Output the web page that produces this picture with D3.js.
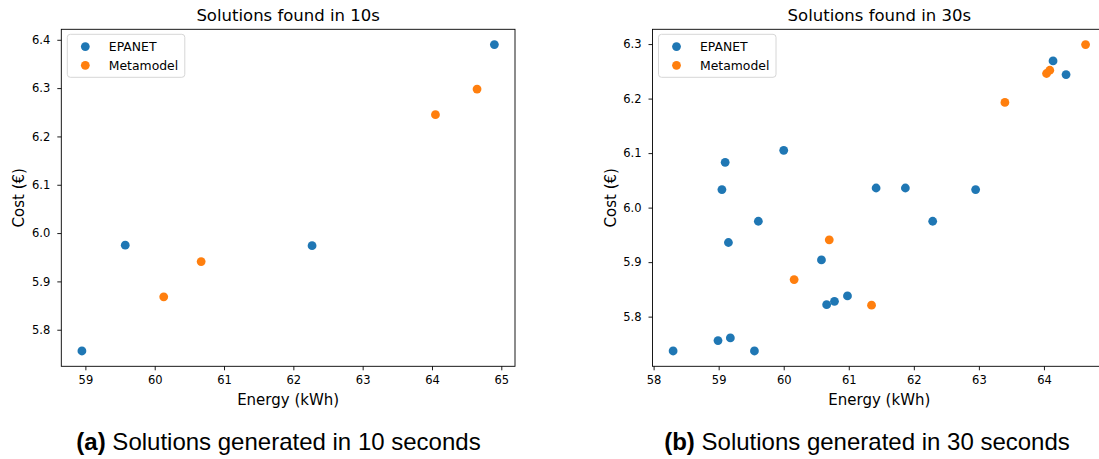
<!DOCTYPE html>
<html>
<head>
<meta charset="utf-8">
<script src="https://cdn.jsdelivr.net/npm/d3@7"></script>
<style>
  body { margin: 0; background: #fff; }
  svg text { font-family: "DejaVu Sans", sans-serif; fill: #000; }
</style>
</head>
<body>
<svg width="1099" height="459"></svg>
<script>
// 10 s run
var energy10Epanet = [58.95, 59.575, 62.27, 64.90];
var cost10Epanet   = [5.756, 5.975, 5.974, 6.390];
var energy10Meta   = [60.13, 60.67, 64.05, 64.65];
var cost10Meta     = [5.868, 5.941, 6.245, 6.298];

// 30 s run
var energy30Epanet = [59.10, 59.05, 60.00, 61.42, 61.87, 62.95, 64.14, 64.34, 59.61, 62.29,
                      59.15, 60.58, 60.66, 60.78, 60.98, 58.30, 58.99, 59.18, 59.55];
var cost30Epanet   = [6.083, 6.033, 6.105, 6.036, 6.036, 6.033, 6.269, 6.244, 5.975, 5.975,
                      5.936, 5.904, 5.822, 5.828, 5.838, 5.737, 5.756, 5.761, 5.737];
var energy30Meta   = [63.40, 64.04, 64.09, 64.64, 60.70, 60.16, 61.35];
var cost30Meta     = [6.193, 6.246, 6.252, 6.299, 5.941, 5.868, 5.821];

var xTicks10 = [59, 60, 61, 62, 63, 64, 65];
var yTicks10 = [5.8, 5.9, 6.0, 6.1, 6.2, 6.3, 6.4];
var xTicks30 = [58, 59, 60, 61, 62, 63, 64];
var yTicks30 = [5.8, 5.9, 6.0, 6.1, 6.2, 6.3];

var seriesNames = ["EPANET", "Metamodel"];
var colors = ["#1f77b4", "#ff7f0e"];

var svg = d3.select("svg"),
    pw = 453.7,
    ph = 337;

var panels = [
  {left: 61.3, top: 29.3, title: "Solutions found in 10s", tag: "(a)", caption: " Solutions generated in 10 seconds",
   capX: 278.5, series: [[energy10Epanet, cost10Epanet], [energy10Meta, cost10Meta]], xt: xTicks10, yt: yTicks10},
  {left: 652.5, top: 29.3, title: "Solutions found in 30s", tag: "(b)", caption: " Solutions generated in 30 seconds",
   capX: 867, series: [[energy30Epanet, cost30Epanet], [energy30Meta, cost30Meta]], xt: xTicks30, yt: yTicks30}
];

// matplotlib style autoscale: data extent plus 5% margin
function padded(arrs) {
  var all = d3.merge(arrs), e = d3.extent(all), m = (e[1] - e[0]) * 0.05;
  return [e[0] - m, e[1] + m];
}

panels.forEach(function(p) {
  var g = svg.append("g").attr("transform", "translate(" + p.left + "," + p.top + ")");

  var x = d3.scaleLinear()
      .domain(padded(p.series.map(function(s) { return s[0]; })))
      .range([0, pw]);
  var y = d3.scaleLinear()
      .domain(padded(p.series.map(function(s) { return s[1]; })))
      .range([ph, 0]);

  // points
  p.series.forEach(function(s, k) {
    g.append("g").selectAll("circle")
      .data(s[0])
      .enter().append("circle")
        .attr("cx", function(d) { return x(d); })
        .attr("cy", function(d, i) { return y(s[1][i]); })
        .attr("r", 4.4)
        .attr("fill", colors[k]);
  });

  // axes
  var xa = g.append("g")
      .attr("transform", "translate(0," + ph + ")")
      .call(d3.axisBottom(x).tickValues(p.xt).tickSize(4).tickPadding(6).tickFormat(d3.format("d")));
  var ya = g.append("g")
      .call(d3.axisLeft(y).tickValues(p.yt).tickSize(4).tickPadding(7).tickFormat(d3.format(".1f")));
  [xa, ya].forEach(function(a) {
    a.select(".domain").remove();
    a.selectAll("text").style("font-size", "11.5px").attr("fill", "#000");
    a.selectAll("line").attr("stroke", "#000").attr("stroke-width", 0.9);
  });

  g.append("rect")
      .attr("width", pw)
      .attr("height", ph)
      .attr("fill", "none")
      .attr("stroke", "#000")
      .attr("stroke-width", 0.9);

  // title and labels
  g.append("text")
      .attr("x", pw / 2)
      .attr("y", -8.5)
      .attr("text-anchor", "middle")
      .style("font-size", "16.5px")
      .text(p.title);

  g.append("text")
      .attr("x", pw / 2)
      .attr("y", ph + 39)
      .attr("text-anchor", "middle")
      .style("font-size", "15px")
      .text("Energy (kWh)");

  g.append("text")
      .attr("transform", "translate(" + (-37) + "," + (ph / 2) + ") rotate(-90)")
      .attr("text-anchor", "middle")
      .style("font-size", "15px")
      .text("Cost (\u20ac)");

  // legend
  var lg = g.append("g").attr("transform", "translate(6,5)");
  lg.append("rect")
      .attr("width", 117.5)
      .attr("height", 43)
      .attr("rx", 3)
      .attr("fill", "#fff")
      .attr("fill-opacity", 0.8)
      .attr("stroke", "#d6d6d6")
      .attr("stroke-width", 1);
  seriesNames.forEach(function(n, k) {
    lg.append("circle")
        .attr("cx", 18)
        .attr("cy", 12.3 + k * 18.7)
        .attr("r", 4.4)
        .attr("fill", colors[k]);
    lg.append("text")
        .attr("x", 41.5)
        .attr("y", 12.3 + k * 18.7)
        .attr("dy", "0.36em")
        .style("font-size", "12.4px")
        .text(n);
  });

  // caption under the panel
  var cap = svg.append("text")
      .attr("x", p.capX)
      .attr("y", 450)
      .attr("text-anchor", "middle")
      .style("font-family", "'Liberation Sans', Arial, sans-serif")
      .style("font-size", "24px");
  cap.append("tspan").style("font-weight", "bold").text(p.tag);
  cap.append("tspan").text(p.caption);
});
</script>
</body>
</html>
